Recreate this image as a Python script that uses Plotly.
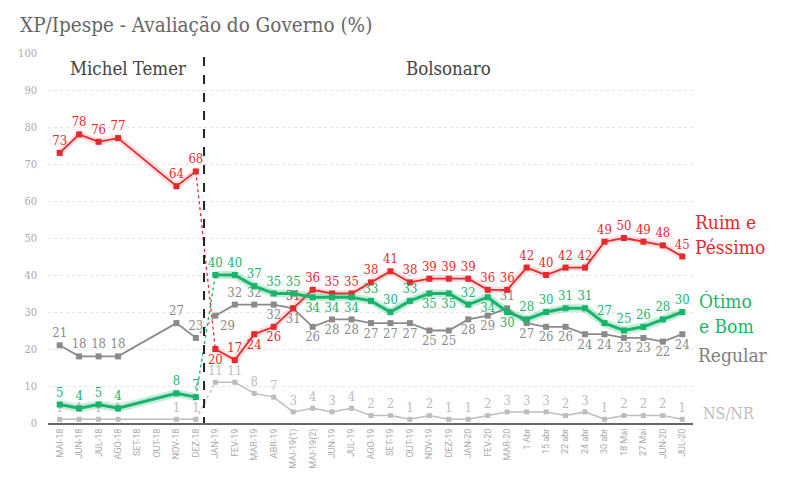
import plotly.graph_objects as go

categories = ["MAI-18","JUN-18","JUL-18","AGO-18","SET-18","OUT-18","NOV-18","DEZ-18",
              "JAN-19","FEV-19","MAR-19","ABR-19","MAI-19(1)","MAI-19(2)","JUN-19","JUL-19",
              "AGO-19","SET-19","OUT-19","NOV-19","DEZ-19","JAN-20","FEV-20","MAR-20",
              "1 Abr","15 abr","22 abr","24 abr","30 abr","18 Mai","27 Mai","JUN-20","JUL-20"]

ruim = [73,78,76,77,None,None,64,68,
        20,17,24,26,31,36,35,35,38,41,38,39,39,39,36,36,42,40,42,42,49,50,49,48,45]
otimo = [5,4,5,4,None,None,8,7,
         40,40,37,35,35,34,34,34,33,30,33,35,35,32,34,30,28,30,31,31,27,25,26,28,30]
regular = [21,18,18,18,None,None,27,23,
           29,32,32,32,31,26,28,28,27,27,27,25,25,28,29,31,27,26,26,24,24,23,23,22,24]
nsnr = [1,1,1,1,None,None,1,1,
        11,11,8,7,3,4,3,4,2,2,1,2,1,1,2,3,3,3,2,3,1,2,2,2,1]

series_labels = ["Ruim e<br>Péssimo", "Ótimo<br>e Bom", "Regular", "NS/NR"]
period_names = ["Michel Temer", "Bolsonaro"]
title = "XP/Ipespe - Avaliação do Governo (%)"
split = 8  # first Bolsonaro category index

# styles
RED = "#e8282d"
GREEN = "#19b46c"
GRAY = "#8a8a8a"
LGRAY = "#bdbdbd"
FONT = "DejaVu Serif Condensed, DejaVu Serif, serif"

T, B = "top center", "bottom center"
pos_ruim = [B, T, B, B] + [T] * 21
pos_otimo = [T, T, T, T, T, B, B, B, T, T, T, B, B, T, B, B] + [T] * 9
pos_regular = ["bottom right", T, T, B] + [B] * 11 + [T] + [B] * 9
pos_nsnr = [T] * 25

xs = list(range(len(categories)))

fig = go.Figure()

def add_series(vals, color, width, msize, pos_b, glow=None):
    xt = [x for x in xs[:split] if vals[x] is not None]
    yt = [vals[x] for x in xt]
    xb = xs[split:]
    yb = vals[split:]
    fig.add_trace(go.Scatter(x=[xs[split - 1], xs[split]], y=[vals[split - 1], vals[split]],
                             mode="lines", line=dict(color=color, width=1.3, dash="dot"),
                             hoverinfo="skip", showlegend=False))
    if glow:
        for seg_x, seg_y in ((xt, yt), (xb, yb)):
            fig.add_trace(go.Scatter(x=seg_x, y=seg_y, mode="lines",
                                     line=dict(color=glow, width=width + 5),
                                     hoverinfo="skip", showlegend=False))
    fig.add_trace(go.Scatter(x=xt, y=yt, mode="lines+markers+text",
                             text=[str(v) for v in yt], textposition="top center",
                             textfont=dict(color=color, size=13, family=FONT),
                             line=dict(color=color, width=width),
                             marker=dict(symbol="square", size=msize, color=color),
                             cliponaxis=False, showlegend=False))
    fig.add_trace(go.Scatter(x=xb, y=yb, mode="lines+markers+text",
                             text=[str(v) for v in yb], textposition=pos_b,
                             textfont=dict(color=color, size=13, family=FONT),
                             line=dict(color=color, width=width),
                             marker=dict(symbol="square", size=msize, color=color),
                             cliponaxis=False, showlegend=False))

add_series(nsnr, LGRAY, 1.5, 5, pos_nsnr)
add_series(regular, GRAY, 1.8, 6, pos_regular)
add_series(ruim, RED, 1.8, 6, pos_ruim, glow="rgba(232,40,45,0.15)")
add_series(otimo, GREEN, 3, 6, pos_otimo, glow="rgba(25,180,108,0.25)")

# vertical dashed separator between periods
fig.add_shape(type="line", xref="x", yref="y", x0=split - 0.58, x1=split - 0.58, y0=-0.8, y1=100.5,
              line=dict(color="#222", width=2, dash="dash"))

annots = [
    dict(text=title, xref="paper", yref="paper",
         x=-0.047, y=1.077, xanchor="left", yanchor="middle", showarrow=False,
         font=dict(size=20.5, color="#666", family=FONT)),
    dict(text=period_names[0], xref="x", yref="y", x=3.5, y=95.8, showarrow=False,
         font=dict(size=18.5, color="#444", family=FONT)),
    dict(text=period_names[1], xref="x", yref="y", x=20.0, y=95.8, showarrow=False,
         font=dict(size=18.5, color="#444", family=FONT)),
    dict(text=series_labels[0], xref="paper", yref="y", x=1.0, y=51.0, xanchor="left",
         align="left", showarrow=False, font=dict(size=19, color=RED, family=FONT)),
    dict(text=series_labels[1], xref="paper", yref="y", x=1.006, y=29.5, xanchor="left",
         align="left", showarrow=False, font=dict(size=19, color=GREEN, family=FONT)),
    dict(text=series_labels[2], xref="paper", yref="y", x=1.004, y=18.3, xanchor="left",
         align="left", showarrow=False, font=dict(size=19, color="#808080", family=FONT)),
    dict(text=series_labels[3], xref="paper", yref="y", x=1.013, y=2.7, xanchor="left",
         align="left", showarrow=False, font=dict(size=16, color=LGRAY, family=FONT)),
]

fig.update_layout(
    width=782, height=486,
    margin=dict(l=40, r=97, t=45, b=71, autoexpand=False),
    paper_bgcolor="white", plot_bgcolor="white",
    annotations=annots,
    font=dict(family=FONT),
)
fig.update_xaxes(range=[-0.6, 32.55], tickmode="array", tickvals=xs, ticktext=categories,
                 tickangle=-90, tickfont=dict(size=9, color="#aaa", family="Roboto"),
                 showgrid=False, showline=True, linecolor="#666", linewidth=2,
                 zeroline=False, ticks="", automargin=False)
fig.update_yaxes(range=[0, 100], tickvals=list(range(0, 101, 10)),
                 tickfont=dict(size=11, color="#aaa", family=FONT),
                 showgrid=True, gridcolor="#e6e6e6", griddash="dot", gridwidth=1,
                 zeroline=False, showline=False, ticks="", automargin=False,
                 ticklabelstandoff=10)

fig.write_html("out.html")
